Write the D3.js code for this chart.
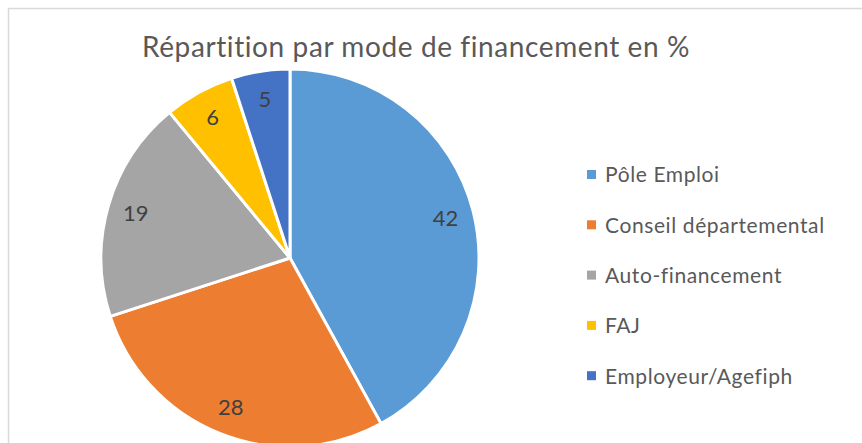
<!DOCTYPE html>
<html>
<head>
<meta charset="utf-8">
<script src="https://cdn.jsdelivr.net/npm/d3@7"></script>
<style>
  body { margin: 0; background: #fff; }
  svg { display: block; font-family: Lato, "Open Sans", sans-serif; font-variant-ligatures: none; }
</style>
</head>
<body>
<div id="chart"></div>
<script>
// Data
const categories = ["Pôle Emploi", "Conseil départemental", "Auto-financement", "FAJ", "Employeur/Agefiph"];
const values = [42, 28, 19, 6, 5];
const colors = ["#5B9BD5", "#ED7D31", "#A5A5A5", "#FFC000", "#4472C4"];
const title = "Répartition par mode de financement en %";

const width = 862, height = 443;
const cx = 290, cy = 258, radius = 189;

const svg = d3.select("#chart").append("svg")
  .attr("width", width)
  .attr("height", height);

// chart area border
svg.append("rect")
  .attr("x", 8.5)
  .attr("y", 8.5)
  .attr("width", width)
  .attr("height", height)
  .attr("fill", "none")
  .attr("stroke", "#d9d9d9")
  .attr("stroke-width", 1.5);

// title
svg.append("text")
  .attr("x", 416)
  .attr("y", 57)
  .attr("text-anchor", "middle")
  .attr("font-size", 28)
  .attr("letter-spacing", 0.6)
  .attr("fill", "#595959")
  .text(title);

const data = categories.map((c, i) => ({cat: c, value: values[i], color: colors[i]}));

const pie = d3.pie().sort(null).value(d => d.value);
const arc = d3.arc().innerRadius(0).outerRadius(radius);
const labelArc = d3.arc().innerRadius(radius * 0.85).outerRadius(radius * 0.85);

const g = svg.append("g")
  .attr("transform", "translate(" + cx + "," + cy + ")");

const arcs = pie(data);

g.selectAll(".slice")
  .data(arcs)
  .enter().append("path")
  .attr("class", "slice")
  .attr("d", arc)
  .attr("fill", d => d.data.color)
  .attr("stroke", "#fff")
  .attr("stroke-width", 3)
  .attr("stroke-linejoin", "round");

g.selectAll(".label")
  .data(arcs)
  .enter().append("text")
  .attr("class", "label")
  .attr("transform", d => "translate(" + labelArc.centroid(d) + ")")
  .attr("text-anchor", "middle")
  .attr("dy", "0.35em")
  .attr("font-size", 22)
  .attr("fill", "#404040")
  .text(d => d.data.value);

// legend
const legend = svg.append("g")
  .selectAll("g")
  .data(data)
  .enter().append("g")
  .attr("transform", (d, i) => "translate(587," + (175 + i * 50.3) + ")");

legend.append("rect")
  .attr("x", 0)
  .attr("y", -5)
  .attr("width", 9)
  .attr("height", 9)
  .attr("fill", d => d.color);

legend.append("text")
  .attr("x", 18)
  .attr("y", 0)
  .attr("dy", "0.35em")
  .attr("font-size", 21)
  .attr("letter-spacing", 0.6)
  .attr("fill", "#595959")
  .text(d => d.cat);
</script>
</body>
</html>
